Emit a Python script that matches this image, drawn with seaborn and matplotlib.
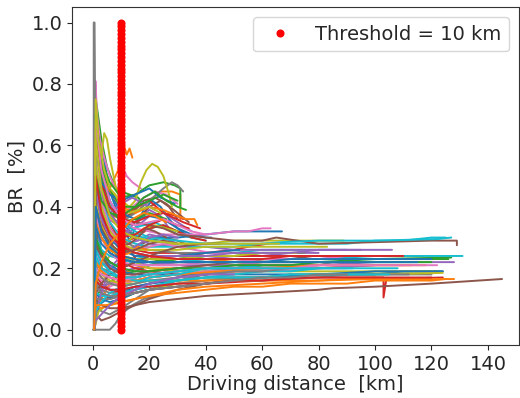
import numpy as np
import pandas as pd
import matplotlib
matplotlib.use("Agg")
import matplotlib.pyplot as plt
import seaborn as sns

# ================== data ==================
# short trips: end before ~40 km
short_trip_km = [
    [0.5, 0.8, 2, 4, 6, 8, 10, 12, 14],
    [0.5, 1, 3, 5, 7, 9, 10, 11, 12, 13, 14],
    [0.6, 1.2, 3, 5, 8, 10, 13, 16, 18],
    [0.5, 1, 2, 4, 7, 10, 13, 16, 20, 24],
    [0.5, 1, 3, 6, 9, 12, 16, 20, 24, 27],
    [0.5, 1, 3, 6, 10, 15, 20, 24, 27, 30],
    [0.5, 0.9, 1.5, 2.5, 4, 6, 8, 10, 11, 12, 14, 17],
    [0.3, 0.3, 0.6, 1, 2, 3, 5],
    [0.5, 1, 3, 4, 5, 6, 8, 10, 12],
    [0.5, 1, 2, 4, 6, 9, 12, 15, 20, 25],
    [0.5, 1.5, 3, 6, 10, 12, 13, 15, 18, 21, 24, 27, 30, 33],
    [0.5, 2, 5, 10, 15, 20, 24, 28, 31, 31],
    [0.5, 1, 3, 6, 10, 15, 20, 25, 29, 31, 31],
    [0.5, 1, 2, 5, 8, 12, 16, 20, 25, 30, 32],
    [0.5, 2, 5, 10, 15, 20, 25, 30, 35],
    [0.5, 1, 3, 6, 10, 14, 18, 22, 26, 30, 34],
    [0.5, 1, 3, 6, 10, 14, 18, 22, 26, 30],
    [0.5, 2, 5, 10, 15, 20, 25, 28, 30, 32],
    [0.5, 1, 3, 6, 10, 13, 15, 17, 19, 21, 23, 25, 27, 28],
    [0.5, 1, 3, 6, 10, 14, 18, 22, 26, 30, 35, 40],
    [0.5, 1, 3, 6, 10, 15, 20, 25, 30, 35, 40, 42],
    [0.5, 1, 3, 6, 10, 15, 20, 25, 30, 33, 36, 37],
    [0.5, 2, 5, 10, 15, 20, 25, 30, 35],
    [0.5, 1, 3, 6, 10, 15, 20, 25, 30, 35, 40],
    [0.5, 1.5, 4, 8, 12, 16, 20, 25, 30],
    [0.5, 1, 3, 6, 10, 15, 20, 25, 30, 35],
    [0.5, 1, 3, 6, 10, 15, 20, 25],
    [0, 3, 6, 8, 10, 14, 18, 22],
    [0.5, 1, 2, 4, 7, 10, 14, 18, 22, 26, 30],
    [0.5, 1, 2, 4, 7, 10, 14, 18, 22, 27],
]
short_trip_br = [
    [0, 0.72, 0.64, 0.55, 0.45, 0.40, 0.36, 0.33, 0.31],
    [0, 0.50, 0.46, 0.44, 0.48, 0.52, 0.58, 0.60, 0.57, 0.59, 0.56],
    [0, 0.74, 0.62, 0.53, 0.46, 0.45, 0.44, 0.43, 0.41],
    [0, 0.38, 0.46, 0.32, 0.26, 0.24, 0.26, 0.22, 0.24, 0.22],
    [0, 0.62, 0.47, 0.38, 0.34, 0.32, 0.36, 0.39, 0.37, 0.33],
    [0, 0.50, 0.42, 0.36, 0.33, 0.35, 0.40, 0.42, 0.40, 0.36],
    [0, 0.81, 0.70, 0.62, 0.56, 0.50, 0.46, 0.47, 0.52, 0.50, 0.48, 0.46],
    [0, 1.00, 1.00, 0.45, 0.28, 0.20, 0.16],
    [0, 0.40, 0.56, 0.64, 0.62, 0.56, 0.47, 0.42, 0.40],
    [0, 0.24, 0.30, 0.22, 0.20, 0.19, 0.21, 0.23, 0.22, 0.21],
    [0, 0.60, 0.52, 0.42, 0.34, 0.31, 0.29, 0.33, 0.39, 0.42, 0.40, 0.36, 0.33, 0.31],
    [0, 0.42, 0.38, 0.36, 0.38, 0.42, 0.45, 0.45, 0.44, 0.36],
    [0, 0.68, 0.55, 0.48, 0.43, 0.44, 0.47, 0.48, 0.47, 0.46, 0.40],
    [0, 0.15, 0.30, 0.40, 0.35, 0.38, 0.40, 0.42, 0.38, 0.37, 0.36],
    [0, 0.30, 0.28, 0.30, 0.33, 0.37, 0.38, 0.35, 0.32],
    [0, 0.45, 0.40, 0.38, 0.36, 0.38, 0.42, 0.43, 0.41, 0.38, 0.35],
    [0, 0.55, 0.45, 0.40, 0.38, 0.40, 0.43, 0.45, 0.44, 0.41],
    [0, 0.40, 0.36, 0.35, 0.38, 0.42, 0.46, 0.48, 0.47, 0.45],
    [0, 0.55, 0.50, 0.45, 0.42, 0.40, 0.42, 0.48, 0.52, 0.54, 0.53, 0.50, 0.44, 0.40],
    [0, 0.60, 0.50, 0.42, 0.36, 0.33, 0.34, 0.35, 0.33, 0.31, 0.30, 0.29],
    [0, 0.70, 0.55, 0.45, 0.38, 0.36, 0.37, 0.36, 0.33, 0.31, 0.30, 0.30],
    [0, 0.65, 0.52, 0.45, 0.40, 0.38, 0.40, 0.39, 0.37, 0.36, 0.36, 0.34],
    [0, 0.50, 0.40, 0.32, 0.31, 0.33, 0.34, 0.32, 0.30],
    [0, 0.58, 0.45, 0.35, 0.28, 0.30, 0.33, 0.34, 0.32, 0.30, 0.29],
    [0, 0.45, 0.35, 0.30, 0.28, 0.29, 0.31, 0.30, 0.28],
    [0, 0.30, 0.34, 0.30, 0.26, 0.27, 0.29, 0.30, 0.29, 0.27],
    [0, 0.20, 0.25, 0.22, 0.20, 0.22, 0.24, 0.23],
    [0, 0, 0, 0.02, 0.05, 0.08, 0.10, 0.11],
    [0, 0.10, 0.18, 0.22, 0.25, 0.27, 0.30, 0.33, 0.34, 0.33, 0.32],
    [0, 0.45, 0.38, 0.30, 0.28, 0.30, 0.31, 0.30, 0.29, 0.28],
]

# medium trips: ~50-125 km
mid_trip_km = [
    [0.5, 1, 3, 6, 10, 15, 20, 30, 40, 50, 60, 67],
    [0.5, 1, 3, 6, 10, 15, 20, 30, 40, 50, 60],
    [0.5, 2, 5, 10, 15, 20, 30, 40, 50, 60, 70],
    [0.5, 1, 3, 6, 10, 15, 20, 30, 40, 50, 55, 62],
    [0.5, 1, 3, 6, 10, 15, 20, 30, 40, 50, 60, 70, 80],
    [0.5, 1, 3, 6, 10, 15, 20, 30, 40, 50, 60, 65],
    [0.5, 1, 3, 6, 10, 15, 20, 25, 30, 40, 50, 55, 60, 63],
    [0.5, 1, 3, 6, 10, 15, 20, 30, 40, 50],
    [0.5, 1, 3, 6, 10, 15, 20, 30, 40, 50, 60, 70, 80, 89],
    [0.5, 1, 3, 6, 10, 15, 20, 30, 40, 50, 60, 70, 80, 90],
    [0.5, 2, 5, 10, 15, 20, 30, 40, 50, 60, 70, 75],
    [0.5, 1, 3, 6, 10, 15, 20, 30, 40, 50, 60, 70, 80, 90, 95],
    [0.5, 1, 3, 6, 10, 15, 20, 30, 40, 50, 60, 70, 80],
    [0.5, 1, 3, 5, 8, 10, 15, 20, 30, 40, 50, 60],
    [0.5, 1, 3, 6, 10, 15, 20, 30, 40, 50, 60, 70, 80, 90, 100, 106],
    [0.5, 1, 3, 6, 10, 15, 20, 30, 40, 50, 60, 70],
    [0.5, 1, 3, 6, 10, 15, 20, 30, 40, 50, 60, 70, 80],
    [0.5, 1, 3, 6, 10, 15, 20, 30, 40, 50, 60, 70, 80, 85],
    [0.5, 2, 5, 10, 15, 20, 30, 40, 50, 60, 70, 80, 90, 100, 110, 122],
    [0.5, 1, 3, 6, 10, 15, 20, 30, 40, 50, 60, 70, 80, 90, 100, 110, 120, 125],
]
mid_trip_br = [
    [0, 0.35, 0.30, 0.26, 0.25, 0.27, 0.30, 0.30, 0.31, 0.32, 0.32, 0.32],
    [0, 0.05, 0.10, 0.15, 0.18, 0.20, 0.21, 0.22, 0.22, 0.23, 0.23],
    [0, 0.12, 0.15, 0.18, 0.19, 0.21, 0.23, 0.24, 0.24, 0.25, 0.25],
    [0, 0.30, 0.25, 0.22, 0.20, 0.22, 0.23, 0.24, 0.25, 0.26, 0.27, 0.28],
    [0, 0.25, 0.22, 0.20, 0.19, 0.20, 0.21, 0.22, 0.23, 0.24, 0.24, 0.25, 0.25],
    [0, 0.15, 0.12, 0.10, 0.11, 0.13, 0.15, 0.17, 0.19, 0.20, 0.21, 0.21],
    [0, 0.50, 0.40, 0.36, 0.34, 0.33, 0.32, 0.31, 0.31, 0.31, 0.32, 0.32, 0.33, 0.33],
    [0, 0.08, 0.06, 0.05, 0.07, 0.10, 0.13, 0.16, 0.18, 0.19],
    [0, 0.40, 0.33, 0.28, 0.25, 0.26, 0.27, 0.28, 0.28, 0.29, 0.29, 0.29, 0.29, 0.29],
    [0, 0.20, 0.18, 0.20, 0.22, 0.23, 0.24, 0.24, 0.25, 0.25, 0.26, 0.26, 0.26, 0.26],
    [0, 0.08, 0.10, 0.12, 0.14, 0.15, 0.17, 0.18, 0.19, 0.20, 0.20, 0.21],
    [0, 0.40, 0.30, 0.25, 0.22, 0.21, 0.20, 0.20, 0.21, 0.21, 0.22, 0.22, 0.22, 0.22, 0.23],
    [0, 0.22, 0.20, 0.18, 0.17, 0.17, 0.18, 0.19, 0.20, 0.20, 0.21, 0.21, 0.21],
    [0, 0.35, 0.40, 0.32, 0.25, 0.22, 0.20, 0.19, 0.18, 0.18, 0.19, 0.19],
    [0, 0.60, 0.45, 0.38, 0.33, 0.30, 0.28, 0.27, 0.27, 0.26, 0.26, 0.26, 0.26, 0.26, 0.26, 0.26],
    [0, 0.05, 0.03, 0.04, 0.06, 0.08, 0.10, 0.13, 0.15, 0.16, 0.17, 0.17],
    [0, 0.10, 0.12, 0.14, 0.16, 0.18, 0.19, 0.20, 0.21, 0.21, 0.22, 0.22, 0.22],
    [0, 0.30, 0.26, 0.22, 0.20, 0.19, 0.19, 0.20, 0.20, 0.21, 0.21, 0.21, 0.21, 0.22],
    [0, 0.06, 0.08, 0.10, 0.12, 0.13, 0.15, 0.16, 0.17, 0.17, 0.18, 0.18, 0.18, 0.19, 0.19, 0.19],
    [0, 0.55, 0.42, 0.35, 0.30, 0.28, 0.27, 0.27, 0.27, 0.27, 0.28, 0.28, 0.28, 0.28, 0.29, 0.29, 0.30, 0.30],
]

# long trips: up to ~145 km
long_trip_km = [
    [0.5, 1, 3, 6, 10, 15, 20, 30, 40, 50, 60, 80, 100, 110, 124],
    [0.5, 1, 3, 6, 10, 15, 20, 30, 40, 50, 60, 80, 100, 113],
    [0.5, 1, 3, 6, 10, 15, 20, 30, 40, 60, 80, 100, 115, 126],
    [0.5, 1, 3, 6, 10, 15, 20, 30, 40, 60, 80, 102, 103, 103, 104, 124],
    [0.5, 1, 3, 6, 10, 15, 20, 30, 40, 60, 80, 100, 115, 128],
    [0.5, 1, 3, 6, 10, 15, 20, 25, 30, 40, 50, 60, 65, 80, 100, 120, 129, 129],
    [0.5, 1, 3, 6, 10, 15, 20, 30, 40, 60, 80, 100, 110],
    [0.5, 1, 3, 6, 10, 15, 20, 30, 40, 60, 80, 100, 120],
    [0.5, 1, 3, 6, 10, 15, 20, 30, 40, 60, 80, 100, 122],
    [0.5, 1, 3, 6, 10, 15, 20, 30, 40, 60, 67, 80, 100, 122, 127],
    [0.5, 1, 3, 6, 10, 15, 20, 30, 40, 60, 80, 100, 124],
    [0.5, 1, 3, 6, 10, 15, 20, 30, 40, 60, 80, 100],
    [0.5, 1, 3, 6, 10, 15, 20, 30, 40, 60, 80, 100, 127],
    [0.5, 1, 3, 6, 10, 15, 20, 30, 40, 60, 80, 100, 117],
    [0.5, 1, 3, 6, 10, 15, 20, 30, 40, 60, 80, 100],
    [0.5, 1, 3, 6, 10, 15, 20, 30, 40, 60, 80, 85, 100, 120, 145],
    [0.5, 1, 3, 6, 10, 15, 20, 30, 40, 60, 80, 90],
    [0.5, 1, 3, 6, 10, 15, 20, 30, 40, 60, 75],
    [0.5, 1, 3, 6, 10, 15, 20, 30, 40, 60, 80, 100, 124],
    [0.5, 1, 3, 6, 10, 15, 20, 30, 40, 60, 80, 100, 120, 131],
    [0.5, 1, 3, 6, 10, 15, 20, 30, 40, 60, 80, 100],
    [0.5, 1, 3, 6, 10, 15, 20, 30, 40, 60, 80, 100, 128],
]
long_trip_br = [
    [0, 0.12, 0.10, 0.09, 0.10, 0.12, 0.13, 0.14, 0.15, 0.16, 0.17, 0.18, 0.18, 0.19, 0.19],
    [0, 0.20, 0.17, 0.15, 0.15, 0.16, 0.17, 0.18, 0.19, 0.19, 0.20, 0.20, 0.21, 0.21],
    [0, 0.35, 0.30, 0.26, 0.24, 0.23, 0.23, 0.22, 0.22, 0.22, 0.22, 0.23, 0.23, 0.23],
    [0, 0.18, 0.15, 0.13, 0.12, 0.12, 0.13, 0.14, 0.15, 0.16, 0.17, 0.17, 0.17, 0.105, 0.165, 0.17],
    [0, 0.40, 0.32, 0.27, 0.24, 0.22, 0.21, 0.21, 0.21, 0.21, 0.21, 0.22, 0.22, 0.22],
    [0, 0.55, 0.45, 0.40, 0.36, 0.35, 0.34, 0.33, 0.31, 0.30, 0.29, 0.29, 0.30, 0.28, 0.285, 0.29, 0.29, 0.275],
    [0, 0.25, 0.20, 0.17, 0.16, 0.16, 0.17, 0.18, 0.19, 0.20, 0.21, 0.21, 0.21],
    [0, 0.15, 0.13, 0.12, 0.12, 0.13, 0.14, 0.15, 0.16, 0.17, 0.18, 0.18, 0.18],
    [0, 0.45, 0.35, 0.28, 0.24, 0.22, 0.20, 0.19, 0.19, 0.19, 0.19, 0.19, 0.19],
    [0, 0.65, 0.50, 0.40, 0.35, 0.32, 0.30, 0.29, 0.28, 0.28, 0.285, 0.29, 0.29, 0.295, 0.30],
    [0, 0.28, 0.24, 0.21, 0.19, 0.18, 0.18, 0.18, 0.18, 0.18, 0.18, 0.19, 0.19],
    [0, 0.08, 0.07, 0.08, 0.09, 0.10, 0.11, 0.13, 0.14, 0.15, 0.16, 0.17],
    [0, 0.50, 0.38, 0.30, 0.26, 0.25, 0.24, 0.24, 0.23, 0.23, 0.23, 0.23, 0.235],
    [0, 0.45, 0.35, 0.30, 0.27, 0.26, 0.25, 0.25, 0.24, 0.24, 0.24, 0.24, 0.24],
    [0, 0.12, 0.14, 0.15, 0.16, 0.17, 0.18, 0.19, 0.20, 0.20, 0.20, 0.21],
    [0, 0.10, 0.08, 0.07, 0.07, 0.08, 0.09, 0.10, 0.11, 0.12, 0.13, 0.135, 0.14, 0.15, 0.165],
    [0, 0.18, 0.16, 0.15, 0.15, 0.16, 0.17, 0.18, 0.19, 0.19, 0.20, 0.20],
    [0, 0.50, 0.40, 0.33, 0.29, 0.27, 0.26, 0.25, 0.25, 0.25, 0.25],
    [0, 0.20, 0.18, 0.16, 0.15, 0.15, 0.16, 0.16, 0.17, 0.17, 0.18, 0.18, 0.185],
    [0, 0.30, 0.26, 0.24, 0.23, 0.22, 0.22, 0.22, 0.23, 0.23, 0.23, 0.24, 0.24, 0.24],
    [0, 0.16, 0.14, 0.13, 0.13, 0.14, 0.15, 0.16, 0.17, 0.17, 0.18, 0.18],
    [0, 0.22, 0.20, 0.18, 0.17, 0.16, 0.16, 0.16, 0.16, 0.16, 0.16, 0.165, 0.165],
]

# more trips filling the dense band
extra_trip_km = [
    [0.4, 1, 3, 6, 10, 15, 20, 26],
    [0.4, 1, 3, 6, 10, 15, 20, 25, 30, 34],
    [0.4, 1, 3, 6, 10, 14, 18, 22],
    [0.4, 1, 2, 5, 8, 10, 13, 16, 19, 22, 26],
    [0.4, 1, 3, 6, 10, 15, 20, 25, 30, 36, 42, 48],
    [0.4, 1, 3, 6, 10, 15, 20, 30, 40, 50, 58],
    [0.4, 1, 3, 6, 10, 15, 20, 30, 40, 50, 60, 72],
    [0.4, 1, 3, 6, 10, 15, 20, 30, 40, 50, 60, 70, 80, 92],
    [0.4, 1, 3, 6, 10, 15, 20, 30, 40, 52],
    [0.4, 1, 3, 6, 10, 15, 20, 30, 45, 60, 80, 100, 118],
    [0.4, 1, 2, 4, 7, 10, 15, 20, 25, 30],
    [0.4, 1, 3, 6, 10, 15, 20, 25, 32, 38],
    [0.4, 1, 3, 6, 10, 15, 20, 25, 30],
    [0.4, 1, 3, 6, 10, 15, 20, 30, 40, 50, 62, 70, 78],
    [0.4, 1, 3, 6, 10, 15, 20, 30, 40, 50, 60, 70, 80, 90, 100],
    [0.4, 1, 3, 6, 10, 15, 20, 30, 40, 50, 60, 70, 80, 90, 100, 112],
    [0.4, 1, 3, 6, 10, 15, 20, 30, 40, 50, 60, 70, 83],
    [0.4, 1, 3, 6, 10, 15, 20, 30, 40, 50, 60],
    [0.4, 1, 3, 6, 10, 15, 20, 24, 29],
    [0.4, 1, 3, 6, 10, 13, 16, 19],
    [0.4, 1, 3, 6, 10, 15, 20, 30, 40, 50, 60, 70, 80, 90, 100, 110, 120],
    [0.4, 1, 3, 6, 10, 15, 20, 30, 40, 50, 60, 75, 90, 105, 120],
    [0.4, 1, 3, 6, 10, 15, 20, 30, 40, 50, 60, 70, 80, 95],
    [0.4, 1, 3, 6, 10, 15, 20, 30, 40, 45],
    [0.4, 1, 3, 6, 10, 15, 20, 25, 30, 35, 40],
    [0.4, 1, 3, 6, 10, 15, 20, 30, 40, 50, 60, 70],
    [0.4, 1, 2, 4, 6, 8, 10, 13, 16, 20, 24],
    [0.4, 1, 3, 6, 10, 15, 20, 30, 40, 50, 60, 70, 80, 90, 105],
    [0.4, 1, 3, 6, 10, 15, 20, 30, 40, 50, 60, 70, 80, 90, 100, 115],
    [0.4, 1, 3, 6, 10, 15, 20, 30, 40, 50, 60, 70, 80, 90, 100, 110, 120, 125],
    [0.4, 1, 3, 6, 10, 15, 18, 22, 26, 30, 33],
    [0.4, 1, 3, 6, 10, 15, 20, 30, 40, 50, 60, 70, 80, 90, 100, 110],
    [0.4, 1, 3, 6, 10, 15, 20, 30, 40, 50],
    [0.4, 1, 3, 6, 10, 15, 20, 25, 30],
    [0.4, 1, 3, 6, 10, 15, 20, 30, 40, 50, 60, 70, 80, 90, 100, 110, 122],
    [0.4, 1, 3, 6, 10, 15, 20, 30, 40, 50, 60, 70, 80, 90],
    [0.4, 1, 3, 6, 10, 15, 20, 30, 40, 50, 60, 66],
    [0.4, 1, 3, 6, 10, 15, 20, 30, 40, 50, 60, 70, 80, 90, 100, 108],
    [0.4, 1, 3, 6, 10, 15, 20, 30, 40, 50, 60, 70, 80, 90, 100, 110, 120],
    [0.4, 1, 3, 6, 10, 14, 18, 22, 26],
]
extra_trip_br = [
    [0, 0.66, 0.50, 0.40, 0.35, 0.36, 0.38, 0.36],
    [0, 0.30, 0.36, 0.32, 0.30, 0.31, 0.34, 0.36, 0.34, 0.33],
    [0, 0.52, 0.44, 0.38, 0.41, 0.43, 0.41, 0.39],
    [0, 0.25, 0.40, 0.35, 0.30, 0.27, 0.28, 0.30, 0.33, 0.32, 0.30],
    [0, 0.58, 0.42, 0.33, 0.28, 0.26, 0.27, 0.28, 0.27, 0.26, 0.25, 0.25],
    [0, 0.18, 0.20, 0.19, 0.17, 0.17, 0.18, 0.19, 0.20, 0.21, 0.21],
    [0, 0.42, 0.34, 0.28, 0.24, 0.23, 0.23, 0.23, 0.24, 0.24, 0.25, 0.25],
    [0, 0.12, 0.11, 0.11, 0.12, 0.13, 0.14, 0.16, 0.17, 0.18, 0.19, 0.19, 0.20, 0.20],
    [0, 0.48, 0.38, 0.30, 0.26, 0.24, 0.24, 0.24, 0.25, 0.26],
    [0, 0.22, 0.19, 0.17, 0.16, 0.16, 0.17, 0.18, 0.19, 0.20, 0.21, 0.21, 0.21],
    [0, 0.70, 0.58, 0.50, 0.44, 0.40, 0.40, 0.42, 0.44, 0.42],
    [0, 0.62, 0.48, 0.40, 0.36, 0.35, 0.37, 0.38, 0.35, 0.33],
    [0, 0.05, 0.12, 0.20, 0.24, 0.27, 0.30, 0.31, 0.30],
    [0, 0.28, 0.24, 0.20, 0.18, 0.18, 0.19, 0.20, 0.21, 0.22, 0.23, 0.23, 0.24],
    [0, 0.38, 0.30, 0.25, 0.22, 0.21, 0.21, 0.21, 0.22, 0.22, 0.23, 0.23, 0.23, 0.24, 0.24],
    [0, 0.10, 0.10, 0.10, 0.11, 0.12, 0.13, 0.14, 0.15, 0.16, 0.16, 0.17, 0.17, 0.18, 0.18, 0.18],
    [0, 0.55, 0.40, 0.32, 0.28, 0.26, 0.26, 0.26, 0.27, 0.27, 0.27, 0.27, 0.27],
    [0, 0.06, 0.09, 0.12, 0.14, 0.15, 0.17, 0.18, 0.20, 0.20, 0.21],
    [0, 0.60, 0.48, 0.44, 0.42, 0.44, 0.46, 0.43, 0.41],
    [0, 0.35, 0.30, 0.26, 0.24, 0.25, 0.27, 0.26],
    [0, 0.30, 0.25, 0.22, 0.20, 0.19, 0.19, 0.20, 0.20, 0.21, 0.21, 0.21, 0.22, 0.22, 0.22, 0.22, 0.22],
    [0, 0.16, 0.14, 0.13, 0.13, 0.14, 0.14, 0.15, 0.15, 0.16, 0.16, 0.17, 0.17, 0.17, 0.17],
    [0, 0.45, 0.36, 0.30, 0.27, 0.25, 0.24, 0.24, 0.24, 0.25, 0.25, 0.25, 0.26, 0.26],
    [0, 0.12, 0.15, 0.18, 0.20, 0.22, 0.24, 0.27, 0.28, 0.28],
    [0, 0.68, 0.52, 0.42, 0.36, 0.34, 0.35, 0.36, 0.34, 0.32, 0.31],
    [0, 0.20, 0.17, 0.15, 0.14, 0.15, 0.16, 0.17, 0.18, 0.19, 0.19, 0.20],
    [0, 0.75, 0.62, 0.52, 0.46, 0.44, 0.40, 0.38, 0.39, 0.40, 0.38],
    [0, 0.26, 0.22, 0.19, 0.17, 0.16, 0.16, 0.16, 0.17, 0.17, 0.17, 0.18, 0.18, 0.18, 0.18],
    [0, 0.34, 0.28, 0.25, 0.23, 0.22, 0.22, 0.22, 0.22, 0.22, 0.22, 0.22, 0.22, 0.22, 0.22, 0.22],
    [0, 0.08, 0.08, 0.08, 0.09, 0.10, 0.11, 0.12, 0.13, 0.14, 0.14, 0.15, 0.15, 0.15, 0.16, 0.16, 0.16, 0.165],
    [0, 0.50, 0.42, 0.38, 0.37, 0.40, 0.43, 0.45, 0.42, 0.40, 0.39],
    [0, 0.50, 0.38, 0.31, 0.27, 0.25, 0.24, 0.23, 0.23, 0.23, 0.23, 0.24, 0.24, 0.24, 0.24, 0.24],
    [0, 0.03, 0.05, 0.08, 0.11, 0.13, 0.15, 0.17, 0.18, 0.18],
    [0, 0.40, 0.33, 0.28, 0.25, 0.26, 0.28, 0.29, 0.28],
    [0, 0.20, 0.18, 0.17, 0.16, 0.17, 0.18, 0.19, 0.20, 0.20, 0.20, 0.20, 0.21, 0.21, 0.21, 0.21, 0.21],
    [0, 0.14, 0.12, 0.11, 0.11, 0.12, 0.13, 0.14, 0.15, 0.16, 0.17, 0.17, 0.18, 0.18],
    [0, 0.62, 0.46, 0.37, 0.32, 0.30, 0.29, 0.28, 0.28, 0.28, 0.28, 0.28],
    [0, 0.24, 0.20, 0.18, 0.17, 0.17, 0.18, 0.19, 0.20, 0.20, 0.20, 0.20, 0.20, 0.20, 0.20, 0.20],
    [0, 0.40, 0.32, 0.27, 0.24, 0.23, 0.22, 0.22, 0.22, 0.22, 0.22, 0.23, 0.23, 0.23, 0.23, 0.23, 0.23],
    [0, 0.15, 0.22, 0.28, 0.32, 0.36, 0.38, 0.37, 0.35],
]

THRESHOLD_KM = 10
# threshold marker drawn as a dotted column of red points from 0 to 1
threshold_br = np.linspace(0, 1, 81)
# ==========================================================================


def build_frame():
    rows = []
    all_km = short_trip_km + mid_trip_km + long_trip_km + extra_trip_km
    all_br = short_trip_br + mid_trip_br + long_trip_br + extra_trip_br
    for i, (km, br) in enumerate(zip(all_km, all_br)):
        for j, (x, y) in enumerate(zip(km, br)):
            rows.append({"trip": f"t{i:03d}", "step": j, "km": x, "br": y})
    return pd.DataFrame(rows)


def main():
    df = build_frame()
    trips = list(dict.fromkeys(df["trip"]))

    sns.set_style("ticks")
    plt.rcParams["font.family"] = ["DejaVu Sans"]

    fig = plt.figure(figsize=(5.2, 3.98), dpi=100)
    ax = fig.add_axes([0.139, 0.133, 0.859, 0.849])

    tab10 = sns.color_palette("tab10")
    palette = [tab10[i % 10] for i in range(len(trips))]

    sns.lineplot(
        data=df, x="km", y="br", hue="trip", hue_order=trips,
        palette=palette, estimator=None, sort=False, legend=False,
        linewidth=1.4, ax=ax,
    )

    ax.plot([THRESHOLD_KM] * len(threshold_br), threshold_br, "o",
            color="red", markersize=4.8, linestyle="none",
            label=f"Threshold = {THRESHOLD_KM} km", zorder=5)

    ax.set_xlim(-7.3, 151)
    ax.set_ylim(-0.05, 1.05)
    ax.set_xticks([0, 20, 40, 60, 80, 100, 120, 140])
    ax.set_yticks([0.0, 0.2, 0.4, 0.6, 0.8, 1.0])
    ax.tick_params(labelsize=14)
    ax.set_xlabel("Driving distance  [km]", fontsize=14, labelpad=1)
    ax.set_ylabel("BR  [%]", fontsize=14)
    for s in ax.spines.values():
        s.set_color("#333333")

    ax.legend(loc="upper right", fontsize=14)

    fig.savefig("out.png", dpi=100)


if __name__ == "__main__":
    main()
